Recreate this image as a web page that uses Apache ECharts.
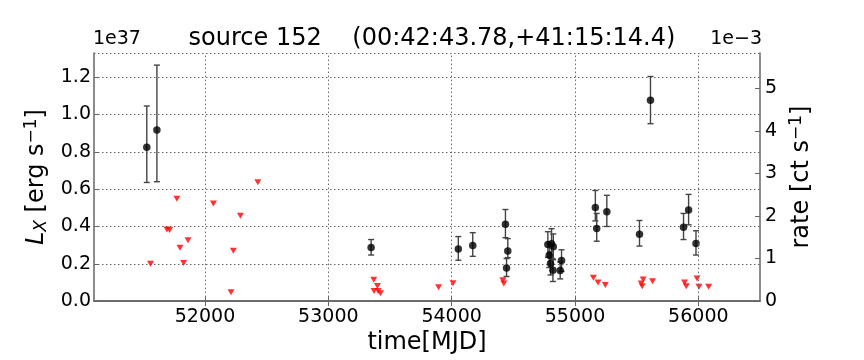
<!DOCTYPE html>
<html>
<head>
<meta charset="utf-8">
<script src="https://cdn.jsdelivr.net/npm/echarts@6/dist/echarts.min.js"></script>
<style>
  html, body { margin: 0; padding: 0; background: #fff; }
  #chart { width: 864px; height: 360px; }
</style>
</head>
<body>
<div id="chart"></div>
<script>
// detections, L_X in units of 1e37 erg/s
const detMjd = [51528, 51610, 53347, 54054, 54171, 54436, 54455, 54445, 54780, 54810, 54824, 54791,
  54802, 54821, 54891, 54880, 55165, 55176, 55258, 55523, 55612, 55880, 55921, 55981];
const detLum = [0.825, 0.917, 0.288, 0.279, 0.298, 0.412, 0.268, 0.178, 0.303, 0.307, 0.291, 0.246,
  0.202, 0.165, 0.217, 0.164, 0.502, 0.389, 0.479, 0.358, 1.077, 0.396, 0.488, 0.309];
const detLo = [0.636, 0.640, 0.247, 0.219, 0.240, 0.340, 0.233, 0.132, 0.235, 0.230, 0.222, 0.180,
  0.140, 0.105, 0.160, 0.119, 0.430, 0.321, 0.400, 0.295, 0.951, 0.330, 0.409, 0.247];
const detHi = [1.046, 1.265, 0.330, 0.346, 0.367, 0.491, 0.335, 0.228, 0.372, 0.388, 0.360, 0.310,
  0.265, 0.225, 0.275, 0.210, 0.593, 0.470, 0.567, 0.432, 1.204, 0.470, 0.572, 0.377];

// upper limits
const ulMjd = [51558, 51691, 51713, 51772, 51797, 51827, 51862, 52068, 52211, 52230, 52287, 52428,
  53368, 53371, 53398, 53404, 53423, 53894, 54011, 54415, 54423, 55149, 55187, 55246,
  55537, 55545, 55553, 55629, 55888, 55902, 55989, 56005, 56084];
const ulLum = [0.200, 0.384, 0.381, 0.549, 0.286, 0.204, 0.326, 0.523, 0.047, 0.270, 0.458, 0.637,
  0.114, 0.054, 0.081, 0.054, 0.042, 0.074, 0.096, 0.112, 0.095, 0.125, 0.100, 0.086,
  0.095, 0.079, 0.116, 0.107, 0.100, 0.079, 0.121, 0.077, 0.077];

const xTicks = [52000, 53000, 54000, 55000, 56000];

const chart = echarts.init(document.getElementById("chart"));
const FONT = "DejaVu Sans";
const frame = { show: true, lineStyle: { color: "#666", width: 1.5 } };
const tick = { inside: true, length: 5, lineStyle: { color: "#666" } };
const grid = { type: [1.5, 2.5], color: "#666", width: 1 };

const points = detMjd.map((m, i) => [m, detLum[i]]);
const bars = detMjd.map((m, i) => [m, detLo[i], detHi[i]]);
const limits = ulMjd.map((m, i) => [m, ulLum[i]]);

function errorBar(params, api) {
  const x = api.value(0);
  const lo = api.coord([x, api.value(1)]);
  const hi = api.coord([x, api.value(2)]);
  const w = 3;
  const style = { stroke: "#444", lineWidth: 1.4 };
  return {
    type: "group",
    children: [
      { type: "line", shape: { x1: lo[0], y1: lo[1], x2: hi[0], y2: hi[1] }, style },
      { type: "line", shape: { x1: lo[0] - w, y1: lo[1], x2: lo[0] + w, y2: lo[1] }, style },
      { type: "line", shape: { x1: hi[0] - w, y1: hi[1], x2: hi[0] + w, y2: hi[1] }, style }
    ]
  };
}

chart.setOption({
  animation: false,
  textStyle: { fontFamily: FONT },
  title: {
    text: "source 152    (00:42:43.78,+41:15:14.4)",
    left: 427, top: 22, textAlign: "center",
    textStyle: { fontFamily: FONT, fontSize: 24, fontWeight: "normal", color: "#000" }
  },
  grid: { left: 94, right: 104, top: 53, bottom: 54 },
  graphic: [
    { type: "text", left: 93, top: 30, style: { text: "1e37", font: "19px DejaVu Sans", fill: "#000" } },
    { type: "text", right: 102, top: 30, style: { text: "1e\u22123", font: "19px DejaVu Sans", fill: "#000" } }
  ],
  xAxis: [{
    type: "value", min: 51100, max: 56500,
    axisLine: frame,
    axisTick: Object.assign({ customValues: xTicks }, tick),
    axisLabel: { fontSize: 19, color: "#000", margin: 6, customValues: xTicks, formatter: v => String(v) },
    splitLine: { show: false },
    name: "time[MJD]", nameLocation: "middle", nameGap: 26,
    nameTextStyle: { fontSize: 24, color: "#000" }
  }, {
    type: "value", min: 51100, max: 56500, position: "top",
    axisLine: frame,
    axisTick: Object.assign({ customValues: xTicks }, tick),
    axisLabel: { show: false },
    splitLine: { show: false }
  }],
  yAxis: [{
    type: "value", min: 0, max: 1.33, interval: 0.2,
    axisLine: frame,
    axisTick: tick,
    axisLabel: {
      fontSize: 19, color: "#000", margin: 3, showMaxLabel: false,
      formatter: v => v.toFixed(1)
    },
    splitLine: { show: true, lineStyle: grid },
    name: "{i|L}{sub|X} [erg s{sup|\u22121}]", nameLocation: "middle", nameGap: 34, nameRotate: 90,
    nameTextStyle: {
      fontSize: 24, color: "#000",
      rich: {
        i: { fontSize: 24, fontStyle: "italic", fontFamily: "DejaVu Sans" },
        sub: { fontSize: 17, fontStyle: "italic", fontFamily: "DejaVu Sans", verticalAlign: "bottom", padding: [10, 0, 0, 0] },
        sup: { fontSize: 17, verticalAlign: "top", padding: [0, 0, 10, 0] }
      }
    }
  }, {
    type: "value", min: 0, max: 5.83, interval: 1, position: "right",
    axisLine: frame,
    axisTick: tick,
    axisLabel: { fontSize: 19, color: "#000", margin: 5, showMaxLabel: false },
    splitLine: { show: false },
    name: "rate [ct s{sup|\u22121}]", nameLocation: "middle", nameGap: 19, nameRotate: 90,
    nameTextStyle: {
      fontSize: 24, color: "#000",
      rich: { sup: { fontSize: 17, verticalAlign: "top", padding: [0, 0, 10, 0] } }
    }
  }],
  series: [
    {
      type: "line", data: [], xAxisIndex: 0, yAxisIndex: 0, silent: true,
      markLine: {
        symbol: "none", silent: true, label: { show: false },
        lineStyle: grid,
        data: xTicks.map(v => ({ xAxis: v }))
      }
    },
    {
      type: "custom", renderItem: errorBar, data: bars,
      encode: { x: 0, y: [1, 2] }, z: 3
    },
    {
      type: "scatter", data: points, symbol: "circle", symbolSize: 7.5,
      itemStyle: { color: "#000" }, z: 4
    },
    {
      type: "scatter", data: limits, symbol: "triangle", symbolRotate: 180, symbolSize: [7, 6],
      itemStyle: { color: "#f00" }, z: 4
    }
  ]
});
</script>
</body>
</html>
